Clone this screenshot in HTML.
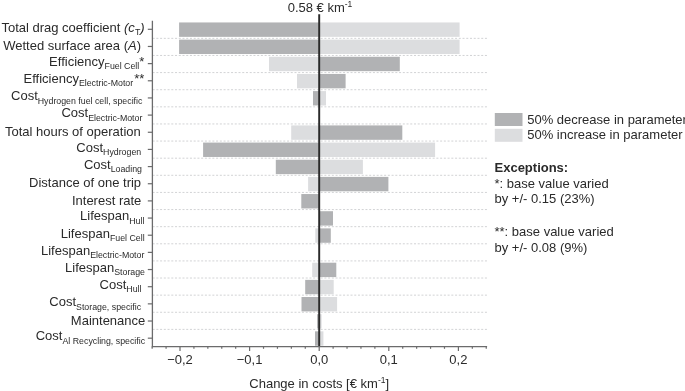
<!DOCTYPE html><html><head><meta charset="utf-8"><style>html,body{margin:0;padding:0;background:#fff;width:685px;height:391px;overflow:hidden}svg{display:block;will-change:transform;font-family:"Liberation Sans",sans-serif}</style></head><body>
<svg width="685" height="391" viewBox="0 0 685 391">
<line x1="152.62" y1="38.35" x2="487" y2="38.35" stroke="#cdced0" stroke-width="0.9" stroke-dasharray="2 1.734"/>
<line x1="152.62" y1="55.47" x2="487" y2="55.47" stroke="#cdced0" stroke-width="0.9" stroke-dasharray="2 1.734"/>
<line x1="152.62" y1="72.59" x2="487" y2="72.59" stroke="#cdced0" stroke-width="0.9" stroke-dasharray="2 1.734"/>
<line x1="152.62" y1="89.71" x2="487" y2="89.71" stroke="#cdced0" stroke-width="0.9" stroke-dasharray="2 1.734"/>
<line x1="152.62" y1="106.83" x2="487" y2="106.83" stroke="#cdced0" stroke-width="0.9" stroke-dasharray="2 1.734"/>
<line x1="152.62" y1="123.95" x2="487" y2="123.95" stroke="#cdced0" stroke-width="0.9" stroke-dasharray="2 1.734"/>
<line x1="152.62" y1="141.07" x2="487" y2="141.07" stroke="#cdced0" stroke-width="0.9" stroke-dasharray="2 1.734"/>
<line x1="152.62" y1="158.19" x2="487" y2="158.19" stroke="#cdced0" stroke-width="0.9" stroke-dasharray="2 1.734"/>
<line x1="152.62" y1="175.31" x2="487" y2="175.31" stroke="#cdced0" stroke-width="0.9" stroke-dasharray="2 1.734"/>
<line x1="152.62" y1="192.43" x2="487" y2="192.43" stroke="#cdced0" stroke-width="0.9" stroke-dasharray="2 1.734"/>
<line x1="152.62" y1="209.55" x2="487" y2="209.55" stroke="#cdced0" stroke-width="0.9" stroke-dasharray="2 1.734"/>
<line x1="152.62" y1="226.67" x2="487" y2="226.67" stroke="#cdced0" stroke-width="0.9" stroke-dasharray="2 1.734"/>
<line x1="152.62" y1="243.79" x2="487" y2="243.79" stroke="#cdced0" stroke-width="0.9" stroke-dasharray="2 1.734"/>
<line x1="152.62" y1="260.91" x2="487" y2="260.91" stroke="#cdced0" stroke-width="0.9" stroke-dasharray="2 1.734"/>
<line x1="152.62" y1="278.03" x2="487" y2="278.03" stroke="#cdced0" stroke-width="0.9" stroke-dasharray="2 1.734"/>
<line x1="152.62" y1="295.15" x2="487" y2="295.15" stroke="#cdced0" stroke-width="0.9" stroke-dasharray="2 1.734"/>
<line x1="152.62" y1="312.27" x2="487" y2="312.27" stroke="#cdced0" stroke-width="0.9" stroke-dasharray="2 1.734"/>
<line x1="152.62" y1="329.39" x2="487" y2="329.39" stroke="#cdced0" stroke-width="0.9" stroke-dasharray="2 1.734"/>
<rect x="319.20" y="22.45" width="140.40" height="14.4" fill="#dcdddf"/>
<rect x="179.10" y="22.45" width="140.10" height="14.4" fill="#b1b2b4"/>
<rect x="319.20" y="39.61" width="140.40" height="14.4" fill="#dcdddf"/>
<rect x="179.10" y="39.61" width="140.10" height="14.4" fill="#b1b2b4"/>
<rect x="269.00" y="56.77" width="50.20" height="14.4" fill="#dcdddf"/>
<rect x="319.20" y="56.77" width="80.60" height="14.4" fill="#b1b2b4"/>
<rect x="297.00" y="73.93" width="22.20" height="14.4" fill="#dcdddf"/>
<rect x="319.20" y="73.93" width="26.40" height="14.4" fill="#b1b2b4"/>
<rect x="319.20" y="91.09" width="6.80" height="14.4" fill="#dcdddf"/>
<rect x="313.00" y="91.09" width="6.20" height="14.4" fill="#b1b2b4"/>
<rect x="291.20" y="125.41" width="28.00" height="14.4" fill="#dcdddf"/>
<rect x="319.20" y="125.41" width="83.10" height="14.4" fill="#b1b2b4"/>
<rect x="319.20" y="142.57" width="115.90" height="14.4" fill="#dcdddf"/>
<rect x="203.10" y="142.57" width="116.10" height="14.4" fill="#b1b2b4"/>
<rect x="319.20" y="159.73" width="43.70" height="14.4" fill="#dcdddf"/>
<rect x="275.80" y="159.73" width="43.40" height="14.4" fill="#b1b2b4"/>
<rect x="308.10" y="176.89" width="11.10" height="14.4" fill="#dcdddf"/>
<rect x="319.20" y="176.89" width="69.20" height="14.4" fill="#b1b2b4"/>
<rect x="301.30" y="194.05" width="17.90" height="14.4" fill="#b1b2b4"/>
<rect x="319.20" y="211.21" width="13.80" height="14.4" fill="#b1b2b4"/>
<rect x="315.30" y="228.37" width="3.90" height="14.4" fill="#dcdddf"/>
<rect x="319.20" y="228.37" width="11.60" height="14.4" fill="#b1b2b4"/>
<rect x="312.20" y="262.69" width="7.00" height="14.4" fill="#dcdddf"/>
<rect x="319.20" y="262.69" width="17.10" height="14.4" fill="#b1b2b4"/>
<rect x="319.20" y="279.85" width="14.50" height="14.4" fill="#dcdddf"/>
<rect x="305.20" y="279.85" width="14.00" height="14.4" fill="#b1b2b4"/>
<rect x="319.20" y="297.01" width="17.90" height="14.4" fill="#dcdddf"/>
<rect x="301.50" y="297.01" width="17.70" height="14.4" fill="#b1b2b4"/>
<rect x="319.20" y="314.17" width="2.40" height="14.4" fill="#dcdddf"/>
<rect x="317.10" y="314.17" width="2.10" height="14.4" fill="#b1b2b4"/>
<rect x="319.20" y="331.33" width="4.20" height="14.4" fill="#dcdddf"/>
<rect x="315.00" y="331.33" width="4.20" height="14.4" fill="#b1b2b4"/>
<line x1="319.20" y1="14.3" x2="319.20" y2="346.7" stroke="#2a2a2a" stroke-width="1.95"/>
<line x1="152.4" y1="20.7" x2="152.4" y2="347.3" stroke="#6b6b6c" stroke-width="1.3"/>
<line x1="151.8" y1="346.7" x2="487.1" y2="346.7" stroke="#6b6b6c" stroke-width="1.3"/>
<line x1="147.8" y1="29.30" x2="152.4" y2="29.30" stroke="#6b6b6c" stroke-width="1.2"/>
<line x1="147.8" y1="46.46" x2="152.4" y2="46.46" stroke="#6b6b6c" stroke-width="1.2"/>
<line x1="147.8" y1="63.62" x2="152.4" y2="63.62" stroke="#6b6b6c" stroke-width="1.2"/>
<line x1="147.8" y1="80.78" x2="152.4" y2="80.78" stroke="#6b6b6c" stroke-width="1.2"/>
<line x1="147.8" y1="97.94" x2="152.4" y2="97.94" stroke="#6b6b6c" stroke-width="1.2"/>
<line x1="147.8" y1="115.10" x2="152.4" y2="115.10" stroke="#6b6b6c" stroke-width="1.2"/>
<line x1="147.8" y1="132.26" x2="152.4" y2="132.26" stroke="#6b6b6c" stroke-width="1.2"/>
<line x1="147.8" y1="149.42" x2="152.4" y2="149.42" stroke="#6b6b6c" stroke-width="1.2"/>
<line x1="147.8" y1="166.58" x2="152.4" y2="166.58" stroke="#6b6b6c" stroke-width="1.2"/>
<line x1="147.8" y1="183.74" x2="152.4" y2="183.74" stroke="#6b6b6c" stroke-width="1.2"/>
<line x1="147.8" y1="200.90" x2="152.4" y2="200.90" stroke="#6b6b6c" stroke-width="1.2"/>
<line x1="147.8" y1="218.06" x2="152.4" y2="218.06" stroke="#6b6b6c" stroke-width="1.2"/>
<line x1="147.8" y1="235.22" x2="152.4" y2="235.22" stroke="#6b6b6c" stroke-width="1.2"/>
<line x1="147.8" y1="252.38" x2="152.4" y2="252.38" stroke="#6b6b6c" stroke-width="1.2"/>
<line x1="147.8" y1="269.54" x2="152.4" y2="269.54" stroke="#6b6b6c" stroke-width="1.2"/>
<line x1="147.8" y1="286.70" x2="152.4" y2="286.70" stroke="#6b6b6c" stroke-width="1.2"/>
<line x1="147.8" y1="303.86" x2="152.4" y2="303.86" stroke="#6b6b6c" stroke-width="1.2"/>
<line x1="147.8" y1="321.02" x2="152.4" y2="321.02" stroke="#6b6b6c" stroke-width="1.2"/>
<line x1="147.8" y1="338.18" x2="152.4" y2="338.18" stroke="#6b6b6c" stroke-width="1.2"/>
<line x1="152.16" y1="346.7" x2="152.16" y2="348.8" stroke="#6b6b6c" stroke-width="1.2"/>
<line x1="166.08" y1="346.7" x2="166.08" y2="348.8" stroke="#6b6b6c" stroke-width="1.2"/>
<line x1="180.00" y1="346.7" x2="180.00" y2="351.0" stroke="#6b6b6c" stroke-width="1.2"/>
<line x1="193.92" y1="346.7" x2="193.92" y2="348.8" stroke="#6b6b6c" stroke-width="1.2"/>
<line x1="207.84" y1="346.7" x2="207.84" y2="348.8" stroke="#6b6b6c" stroke-width="1.2"/>
<line x1="221.76" y1="346.7" x2="221.76" y2="348.8" stroke="#6b6b6c" stroke-width="1.2"/>
<line x1="235.68" y1="346.7" x2="235.68" y2="348.8" stroke="#6b6b6c" stroke-width="1.2"/>
<line x1="249.60" y1="346.7" x2="249.60" y2="351.0" stroke="#6b6b6c" stroke-width="1.2"/>
<line x1="263.52" y1="346.7" x2="263.52" y2="348.8" stroke="#6b6b6c" stroke-width="1.2"/>
<line x1="277.44" y1="346.7" x2="277.44" y2="348.8" stroke="#6b6b6c" stroke-width="1.2"/>
<line x1="291.36" y1="346.7" x2="291.36" y2="348.8" stroke="#6b6b6c" stroke-width="1.2"/>
<line x1="305.28" y1="346.7" x2="305.28" y2="348.8" stroke="#6b6b6c" stroke-width="1.2"/>
<line x1="319.20" y1="346.7" x2="319.20" y2="351.0" stroke="#6b6b6c" stroke-width="1.2"/>
<line x1="333.12" y1="346.7" x2="333.12" y2="348.8" stroke="#6b6b6c" stroke-width="1.2"/>
<line x1="347.04" y1="346.7" x2="347.04" y2="348.8" stroke="#6b6b6c" stroke-width="1.2"/>
<line x1="360.96" y1="346.7" x2="360.96" y2="348.8" stroke="#6b6b6c" stroke-width="1.2"/>
<line x1="374.88" y1="346.7" x2="374.88" y2="348.8" stroke="#6b6b6c" stroke-width="1.2"/>
<line x1="388.80" y1="346.7" x2="388.80" y2="351.0" stroke="#6b6b6c" stroke-width="1.2"/>
<line x1="402.72" y1="346.7" x2="402.72" y2="348.8" stroke="#6b6b6c" stroke-width="1.2"/>
<line x1="416.64" y1="346.7" x2="416.64" y2="348.8" stroke="#6b6b6c" stroke-width="1.2"/>
<line x1="430.56" y1="346.7" x2="430.56" y2="348.8" stroke="#6b6b6c" stroke-width="1.2"/>
<line x1="444.48" y1="346.7" x2="444.48" y2="348.8" stroke="#6b6b6c" stroke-width="1.2"/>
<line x1="458.40" y1="346.7" x2="458.40" y2="351.0" stroke="#6b6b6c" stroke-width="1.2"/>
<line x1="472.32" y1="346.7" x2="472.32" y2="348.8" stroke="#6b6b6c" stroke-width="1.2"/>
<line x1="486.24" y1="346.7" x2="486.24" y2="348.8" stroke="#6b6b6c" stroke-width="1.2"/>
<text x="180.00" y="364.2" font-size="13" fill="#2a2a2a" text-anchor="middle">−0,2</text>
<text x="249.60" y="364.2" font-size="13" fill="#2a2a2a" text-anchor="middle">−0,1</text>
<text x="319.20" y="364.2" font-size="13" fill="#2a2a2a" text-anchor="middle">0,0</text>
<text x="388.80" y="364.2" font-size="13" fill="#2a2a2a" text-anchor="middle">0,1</text>
<text x="458.40" y="364.2" font-size="13" fill="#2a2a2a" text-anchor="middle">0,2</text>
<text x="319.20" y="387.7" font-size="13" fill="#2a2a2a" text-anchor="middle">Change in costs [€ km<tspan font-size="8.5" dy="-5">-1</tspan><tspan dy="5">]</tspan></text>
<text x="320.00" y="11.6" font-size="13" fill="#2a2a2a" text-anchor="middle">0.58 € km<tspan font-size="8.5" dy="-5">-1</tspan></text>
<text x="144.60" y="32.30" font-size="13" fill="#2a2a2a" text-anchor="end">Total drag coefficient <tspan font-style="italic">(c</tspan><tspan font-size="8.8" dy="3.1">T</tspan><tspan font-style="italic" dy="-3.1">)</tspan></text>
<text x="141.00" y="50.21" font-size="13" fill="#2a2a2a" text-anchor="end">Wetted surface area (<tspan font-style="italic">A</tspan>)</text>
<text x="144.30" y="65.92" font-size="13" fill="#2a2a2a" text-anchor="end">Efficiency<tspan font-size="8.8" dy="3.4">Fuel Cell</tspan><tspan dy="-3.4">*</tspan></text>
<text x="144.30" y="83.08" font-size="13" fill="#2a2a2a" text-anchor="end">Efficiency<tspan font-size="8.8" dy="3.4">Electric-Motor</tspan><tspan dy="-3.4" dx="1">**</tspan></text>
<text x="142.40" y="100.24" font-size="13" fill="#2a2a2a" text-anchor="end">Cost<tspan font-size="8.8" dy="3.4">Hydrogen fuel cell, specific</tspan></text>
<text x="142.40" y="117.40" font-size="13" fill="#2a2a2a" text-anchor="end">Cost<tspan font-size="8.8" dy="3.4">Electric-Motor</tspan></text>
<text x="140.80" y="136.01" font-size="13" fill="#2a2a2a" text-anchor="end">Total hours of operation</text>
<text x="141.20" y="151.72" font-size="13" fill="#2a2a2a" text-anchor="end">Cost<tspan font-size="8.8" dy="3.4">Hydrogen</tspan></text>
<text x="142.00" y="168.88" font-size="13" fill="#2a2a2a" text-anchor="end">Cost<tspan font-size="8.8" dy="3.4">Loading</tspan></text>
<text x="141.10" y="187.49" font-size="13" fill="#2a2a2a" text-anchor="end">Distance of one trip</text>
<text x="141.30" y="204.65" font-size="13" fill="#2a2a2a" text-anchor="end">Interest rate</text>
<text x="144.40" y="220.36" font-size="13" fill="#2a2a2a" text-anchor="end">Lifespan<tspan font-size="8.8" dy="3.4">Hull</tspan></text>
<text x="144.60" y="237.52" font-size="13" fill="#2a2a2a" text-anchor="end">Lifespan<tspan font-size="8.8" dy="3.4">Fuel Cell</tspan></text>
<text x="144.40" y="254.68" font-size="13" fill="#2a2a2a" text-anchor="end">Lifespan<tspan font-size="8.8" dy="3.4">Electric-Motor</tspan></text>
<text x="145.00" y="271.84" font-size="13" fill="#2a2a2a" text-anchor="end">Lifespan<tspan font-size="8.8" dy="3.4">Storage</tspan></text>
<text x="141.50" y="289.00" font-size="13" fill="#2a2a2a" text-anchor="end">Cost<tspan font-size="8.8" dy="3.4">Hull</tspan></text>
<text x="141.10" y="306.16" font-size="13" fill="#2a2a2a" text-anchor="end">Cost<tspan font-size="8.8" dy="3.4">Storage, specific</tspan></text>
<text x="145.30" y="324.77" font-size="13" fill="#2a2a2a" text-anchor="end">Maintenance</text>
<text x="145.10" y="340.48" font-size="13" fill="#2a2a2a" text-anchor="end">Cost<tspan font-size="8.8" dy="3.4">Al Recycling, specific</tspan></text>
<rect x="494.8" y="113" width="27.7" height="13" fill="#b1b2b4"/>
<rect x="494.8" y="128.8" width="27.7" height="13" fill="#dcdddf"/>
<text x="527.2" y="123.8" font-size="13" fill="#2a2a2a">50% decrease in parameter</text>
<text x="527.2" y="139" font-size="13" fill="#2a2a2a">50% increase in parameter</text>
<text x="494.5" y="171.9" font-size="13" fill="#2a2a2a" font-weight="bold">Exceptions:</text>
<text x="494.5" y="188.0" font-size="13" fill="#2a2a2a">*: base value varied</text>
<text x="494.5" y="203.4" font-size="13" fill="#2a2a2a">by +/- 0.15 (23%)</text>
<text x="494.5" y="236.0" font-size="13" fill="#2a2a2a">**: base value varied</text>
<text x="494.5" y="252.0" font-size="13" fill="#2a2a2a">by +/- 0.08 (9%)</text>
</svg></body></html>
